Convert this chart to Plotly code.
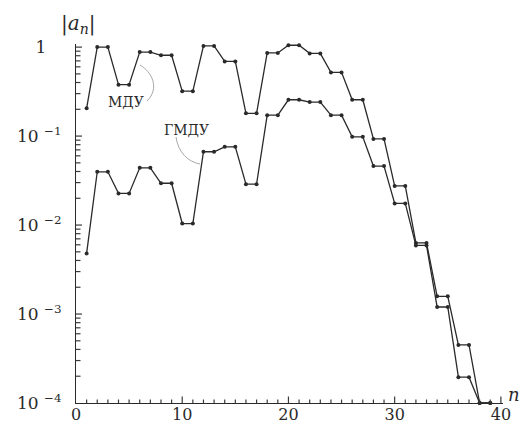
import math
import plotly.graph_objects as go

# Coefficient index
n = list(range(1, 40))

# |a_n| for the two schemes
mdu = [0.205,
       1.0, 1.0, 0.378, 0.378, 0.88, 0.88, 0.81, 0.81, 0.32, 0.32,
       1.03, 1.03, 0.69, 0.69, 0.18, 0.18, 0.86, 0.86, 1.05, 1.05,
       0.85, 0.85, 0.52, 0.52, 0.256, 0.256, 0.093, 0.093, 0.0275, 0.0275,
       0.0063, 0.0063, 0.00158, 0.00158, 0.00045, 0.00045, 1e-4, 1e-4]
gmdu = [0.0048,
        0.0397, 0.0397, 0.0227, 0.0227, 0.044, 0.044, 0.0295, 0.0295, 0.0104, 0.0104,
        0.0667, 0.0667, 0.0758, 0.0758, 0.0288, 0.0288, 0.172, 0.172, 0.256, 0.256,
        0.241, 0.241, 0.172, 0.172, 0.098, 0.098, 0.046, 0.046, 0.0175, 0.0175,
        0.0059, 0.0059, 0.0012, 0.0012, 0.000195, 0.000195, 1e-4, 1e-4]

x_ticks = [0, 10, 20, 30, 40]
x_minor = [k for k in range(0, 41) if k % 10]
y_ticks = [1e-4, 1e-3, 1e-2, 1e-1, 1]
y_minor = [k * 10.0 ** d for d in range(-4, 0) for k in range(2, 10)]
y_ticktext = ["10 <sup>−4</sup>", "10 <sup>−3</sup>", "10 <sup>−2</sup>",
              "10 <sup>−1</sup>", "1<sup>\u00a0\u00a0\u00a0\u00a0</sup>"]

W, H = 524, 425
L, R, T, B = 76, 21, 44, 22
PW, PH = W - L - R, H - T - B
FONT = "DejaVu Serif"
INK = "#2a2a2a"
TICK = "#3a3a3a"
Y_LO, Y_TOP = -4, 0.035


def paper(px, py):
    """Pixel position on the page -> paper coordinates of the plot area."""
    return (px - L) / PW, (H - B - py) / PH


def curve(points):
    (x0, y0), (x1, y1), (x2, y2), (x3, y3) = [paper(*p) for p in points]
    return f"M {x0},{y0} C {x1},{y1} {x2},{y2} {x3},{y3}"


fig = go.Figure()
for name, vals in (("МДУ", mdu), ("ГМДУ", gmdu)):
    fig.add_trace(go.Scatter(
        x=n, y=vals, name=name, mode="lines+markers",
        line=dict(color=INK, width=1.3),
        marker=dict(color=INK, size=4, symbol="circle"),
        cliponaxis=False, showlegend=False,
    ))

fig.update_xaxes(
    range=[0, 40.2], tickmode="array", tickvals=x_ticks, ticks="",
    showline=True, linecolor=INK, linewidth=1.2,
    showgrid=False, zeroline=False, automargin=False,
    tickfont=dict(family=FONT, size=16, color=INK),
    ticklabelstandoff=-3,
)
fig.update_yaxes(
    type="log", range=[Y_LO, Y_TOP], tickmode="array", tickvals=y_ticks,
    ticktext=y_ticktext, ticks="",
    showline=True, linecolor=INK, linewidth=1.2,
    showgrid=False, zeroline=False, automargin=False,
    tickfont=dict(family=FONT, size=17, color=INK),
    ticklabelstandoff=10,
)

# Inward tick marks along both axes
shapes = []


def xtick(v, length):
    shapes.append(dict(type="line", xref="x", yref="paper",
                       x0=v, x1=v, y0=0, y1=length / PH,
                       line=dict(color=TICK, width=1.2)))


def ytick(v, length):
    yp = (math.log10(v) - Y_LO) / (Y_TOP - Y_LO)
    shapes.append(dict(type="line", xref="paper", yref="paper",
                       x0=0, x1=length / PW, y0=yp, y1=yp,
                       line=dict(color=TICK, width=1.2)))


for v in x_ticks[1:]:
    xtick(v, 6.5)
for v in x_minor:
    xtick(v, 3.5)
for v in y_ticks[1:]:
    ytick(v, 6)
for v in y_minor:
    ytick(v, 4.5)

# Leader curves from the series names to their lines
shapes.append(dict(type="path", xref="paper", yref="paper",
                   path=curve([(140, 65), (152, 72), (160, 88), (147, 101)]),
                   line=dict(color="#a8a8a8", width=1)))
shapes.append(dict(type="path", xref="paper", yref="paper",
                   path=curve([(176, 137), (178, 152), (188, 162), (200, 164)]),
                   line=dict(color="#a8a8a8", width=1)))

annotations = []


def label(text, px, py, size, **kw):
    x, y = paper(px, py)
    annotations.append(dict(
        text=text, x=x, y=y, xref="paper", yref="paper", showarrow=False,
        xanchor="center", yanchor="middle",
        font=dict(family=FONT, size=size, color=INK), **kw))


label("|<i>a</i><sub><i>n</i></sub>|", 78, 24, 20)
label("<i>n</i>", 514, 394, 18)
label("МДУ", 126, 102, 14)
label("ГМДУ", 186, 130, 14)

fig.update_layout(
    width=W, height=H,
    margin=dict(l=L, r=R, t=T, b=B),
    paper_bgcolor="white", plot_bgcolor="white",
    annotations=annotations,
    shapes=shapes,
)

fig.write_html("out.html")
